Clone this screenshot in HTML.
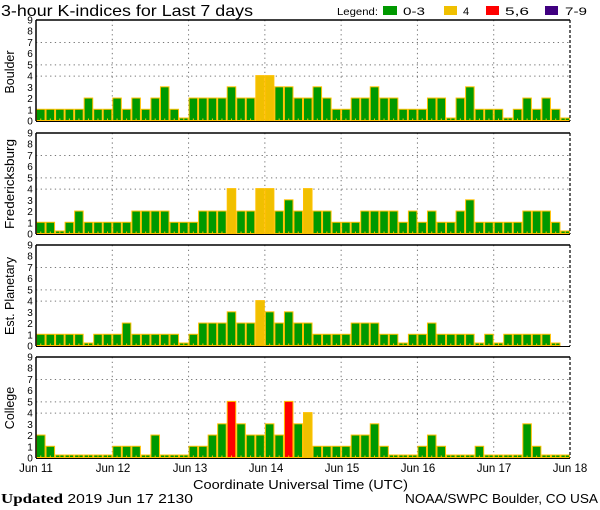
<!DOCTYPE html>
<html><head><meta charset="utf-8"><style>
html,body{margin:0;padding:0;background:#fff;}
svg{display:block;font-family:"Liberation Sans",sans-serif;}
</style></head><body>
<svg id="s" width="600" height="510" viewBox="0 0 600 510" xmlns="http://www.w3.org/2000/svg">
<rect width="600" height="510" fill="#fff"/>
<text x="1" y="16" font-size="16" fill="#000" textLength="252" lengthAdjust="spacingAndGlyphs">3-hour K-indices for Last 7 days</text>
<text x="337" y="15" font-size="10.5" textLength="41" lengthAdjust="spacingAndGlyphs">Legend:</text>
<rect x="383" y="6" width="14" height="9" fill="#009900"/><text x="403" y="15" font-size="11" textLength="22" lengthAdjust="spacingAndGlyphs">0-3</text>
<rect x="444" y="6" width="13" height="9" fill="#f0c000"/><text x="463" y="15" font-size="11">4</text>
<rect x="486" y="6" width="13" height="9" fill="#ff0000"/><text x="505" y="15" font-size="11" textLength="24" lengthAdjust="spacingAndGlyphs">5,6</text>
<rect x="545" y="6" width="13" height="9" fill="#400080"/><text x="565" y="15" font-size="11" textLength="22" lengthAdjust="spacingAndGlyphs">7-9</text>
<g id="panels"></g>
<g font-size="10" text-anchor="middle">
<g transform="translate(30,121)"><text y="3.5">0</text><text y="-7.7">1</text><text y="-18.9">2</text><text y="-30.2">3</text><text y="-41.4">4</text><text y="-52.6">5</text><text y="-63.8">6</text><text y="-75.1">7</text><text y="-86.3">8</text><text y="-97.5">9</text></g>
<g transform="translate(30,234)"><text y="3.5">0</text><text y="-7.7">1</text><text y="-18.9">2</text><text y="-30.2">3</text><text y="-41.4">4</text><text y="-52.6">5</text><text y="-63.8">6</text><text y="-75.1">7</text><text y="-86.3">8</text><text y="-97.5">9</text></g>
<g transform="translate(30,346)"><text y="3.5">0</text><text y="-7.7">1</text><text y="-18.9">2</text><text y="-30.2">3</text><text y="-41.4">4</text><text y="-52.6">5</text><text y="-63.8">6</text><text y="-75.1">7</text><text y="-86.3">8</text><text y="-97.5">9</text></g>
<g transform="translate(30,458)"><text y="3.5">0</text><text y="-7.7">1</text><text y="-18.9">2</text><text y="-30.2">3</text><text y="-41.4">4</text><text y="-52.6">5</text><text y="-63.8">6</text><text y="-75.1">7</text><text y="-86.3">8</text><text y="-97.5">9</text></g>
</g>
<g font-size="12.5" text-anchor="middle">
<text transform="translate(14,72) rotate(-90)">Boulder</text>
<text transform="translate(14,184) rotate(-90)" textLength="90" lengthAdjust="spacingAndGlyphs">Fredericksburg</text>
<text transform="translate(14,296) rotate(-90)" textLength="78" lengthAdjust="spacingAndGlyphs">Est. Planetary</text>
<text transform="translate(14,408) rotate(-90)">College</text>
</g>
<g font-size="11.5" text-anchor="middle">
<text x="36" y="472">Jun 11</text><text x="113" y="472">Jun 12</text><text x="190" y="472">Jun 13</text><text x="266" y="472">Jun 14</text><text x="342" y="472">Jun 15</text><text x="418" y="472">Jun 16</text><text x="494" y="472">Jun 17</text><text x="570" y="472">Jun 18</text>
</g>
<text x="193" y="489" font-size="13" textLength="215" lengthAdjust="spacingAndGlyphs">Coordinate Universal Time (UTC)</text>
<text x="1" y="503" font-size="13" textLength="192" lengthAdjust="spacingAndGlyphs"><tspan font-family="Liberation Serif,serif" font-weight="bold" font-size="14">Updated</tspan> 2019 Jun 17 2130</text>
<text x="405" y="503" font-size="13" textLength="193" lengthAdjust="spacingAndGlyphs">NOAA/SWPC Boulder, CO USA</text>
</svg>
<script>
var D=[
[1,1,1,1,1,2,1,1, 2,1,2,1,2,3,1,0, 2,2,2,2,3,2,2,4, 4,3,3,2,2,3,2,1, 1,2,2,3,2,2,1,1, 1,2,2,0,2,3,1,1, 1,0,1,2,1,2,1,0],
[1,1,0,1,2,1,1,1, 1,1,2,2,2,2,1,1, 1,2,2,2,4,2,2,4, 4,2,3,2,4,2,2,1, 1,1,2,2,2,2,1,2, 1,2,1,1,2,3,1,1, 1,1,1,2,2,2,1,0],
[1,1,1,1,1,0,1,1, 1,2,1,1,1,1,1,0, 1,2,2,2,3,2,2,4, 3,2,3,2,2,1,1,1, 1,2,2,2,1,1,0,1, 1,2,1,1,1,1,0,1, 0,1,1,1,1,1,0,-1],
[2,1,0,0,0,0,0,0, 1,1,1,0,2,0,0,0, 1,1,2,3,5,3,2,2, 3,2,5,3,4,1,1,1, 1,2,2,3,1,0,0,0, 1,2,1,0,0,0,1,0, 0,0,0,3,1,0,0,0]];
var P=[[20,121],[133,234],[245,346],[357,458]];
var ns="http://www.w3.org/2000/svg",g=document.getElementById("panels");
function el(n,a){var e=document.createElementNS(ns,n);for(var k in a)e.setAttribute(k,a[k]);g.appendChild(e);return e;}
var L=36,R=570,bw=(R-L)/56;
P.forEach(function(p,pi){
 var t=p[0],b=p[1],u=(b-t)/9;
 [4,5,7].forEach(function(v){var y=b-v*u;el("line",{x1:L,x2:R,y1:y,y2:y,stroke:"#777","stroke-dasharray":"1.3,3.4","stroke-width":1});});
 for(var d=1;d<7;d++){var x=L+d*8*bw;el("line",{x1:x,x2:x,y1:t,y2:b,stroke:"#777","stroke-dasharray":"1.3,3.4","stroke-width":1});}
 D[pi].forEach(function(v,i){
  if(v<0)return;
  var x=L+i*bw,h=v==0?2.5:v*u,c=v<=3?"#009900":v==4?"#f0c000":v<=6?"#ff0000":"#400080";
  el("rect",{x:x+0.5,y:b-h-0.5,width:bw-1,height:h,fill:c,stroke:"#ffc000","stroke-width":1});
  el("line",{x1:x+bw/2,x2:x+bw/2,y1:b-2.5,y2:b,stroke:"#ffc000","stroke-width":1});
 });
 el("line",{x1:L,x2:R,y1:t,y2:t,stroke:"#000","stroke-width":1.5});
 el("line",{x1:L,x2:R,y1:b+0.5,y2:b+0.5,stroke:"#000","stroke-width":1});
 el("line",{x1:L,x2:L,y1:t,y2:b,stroke:"#000","stroke-width":1.5});
 el("line",{x1:R,x2:R,y1:t,y2:b,stroke:"#000","stroke-width":1.2,"stroke-dasharray":"3,2"});
});
</script>
</body></html>
